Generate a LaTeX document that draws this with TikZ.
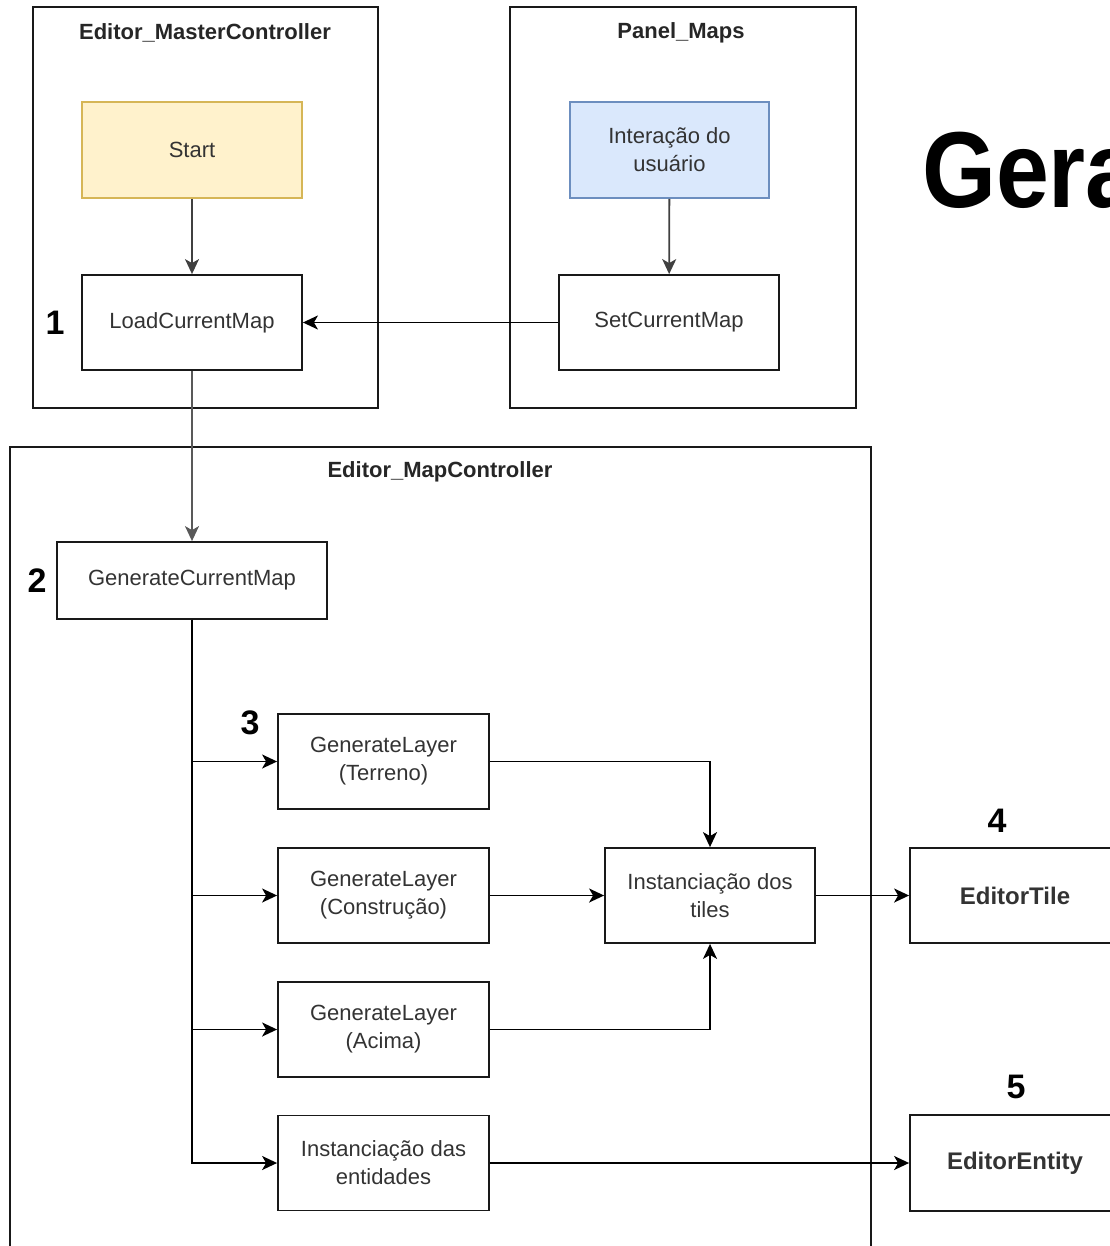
\documentclass[tikz,border=0pt]{standalone}
\usepackage{fontspec}
\setmainfont{Liberation Sans}
\usepackage{tikz}
\usetikzlibrary{shapes.geometric, arrows.meta, positioning}
\definecolor{amarelo}{HTML}{FFF2CC}
\definecolor{amareloborda}{HTML}{D6B656}
\definecolor{azul}{HTML}{DAE8FC}
\definecolor{azulborda}{HTML}{6C8EBF}
\definecolor{texto}{HTML}{333333}
\tikzstyle{caixa} = [draw=black!90, line width=1.8pt, inner sep=0pt, align=center, text=texto, font=\fontsize{22}{28}\selectfont]
\tikzstyle{grupo} = [draw=black!90, line width=1.5pt, inner sep=0pt]
\tikzstyle{titulo} = [inner sep=0pt, text=black!85, font=\fontsize{22}{26}\selectfont\bfseries]
\tikzstyle{numero} = [inner sep=0pt, font=\fontsize{34}{34}\selectfont\bfseries]
\tikzstyle{arrow} = [line width=1.8pt, -{Stealth[length=15pt, width=14pt, inset=4pt]}]

\begin{document}
\begin{tikzpicture}[x=1pt, y=-1pt]
		\useasboundingbox (0,0) rectangle (1109,1246);
		% grupos
		\node[grupo, minimum width=345, minimum height=401] (master) at (205.5,207.5) {};
		\node[grupo, minimum width=346, minimum height=401] (panel) at (683,207.5) {};
		\node[grupo, minimum width=861, minimum height=840] (mapctrl) at (440.5,867) {};
		\node[titulo] (tmaster) at (205,33) {Editor\_MasterController};
		\node[titulo] (tpanel) at (681,33) {Panel\_Maps};
		\node[titulo] (tmapctrl) at (440,472) {Editor\_MapController};
		% caixas de cima
		\node[caixa, draw=amareloborda, fill=amarelo, minimum width=220, minimum height=96] (start) at (192,150) {Start};
		\node[caixa, minimum width=220, minimum height=95] (load) at (192,322.5) {LoadCurrentMap};
		\node[caixa, draw=azulborda, fill=azul, minimum width=199, minimum height=96] (inter) at (669.5,150) {Interação do\\usuário};
		\node[caixa, minimum width=220, minimum height=95] (set) at (669,322.5) {SetCurrentMap};
		\node[caixa, minimum width=270, minimum height=77] (gcm) at (192,580.5) {GenerateCurrentMap};
		% camadas
		\foreach \nome/\yc/\texto in
		{terreno/761.5/{GenerateLayer\\(Terreno)},
		 construcao/895.5/{GenerateLayer\\(Construção)},
		 acima/1029.5/{GenerateLayer\\(Acima)},
		 entidades/1163/{Instanciação das\\entidades}}
		{
			\node[caixa, minimum width=211, minimum height=95] (\nome) at (383.5,\yc) {\texto};
		}
		\node[caixa, minimum width=210, minimum height=95] (tiles) at (710,895.5) {Instanciação dos\\tiles};
		\node[caixa, minimum width=210, minimum height=95, font=\fontsize{24}{28}\selectfont\bfseries] (etile) at (1015,895.5) {EditorTile};
		\node[caixa, minimum width=210, minimum height=96, font=\fontsize{24}{28}\selectfont\bfseries] (eentity) at (1015,1163) {EditorEntity};
		% numeros
		\node[numero] (n1) at (55,323) {1};
		\node[numero] (n2) at (37,581) {2};
		\node[numero] (n3) at (250,723) {3};
		\node[numero] (n4) at (997,821) {4};
		\node[numero] (n5) at (1016,1087) {5};
		\node[anchor=base west, inner sep=0pt, font=\fontsize{108}{108}\selectfont\bfseries] (gera) at (922,208) {\scalebox{0.88}[1]{Gera}};
		% setas
		\draw[arrow, draw=black!75] (start) -- (load);
		\draw[arrow, draw=black!75] (inter) -- (set);
		\draw[arrow] (set) -- (load);
		\draw[arrow, draw=black!65] (load) -- (gcm);
		\foreach \nome in {terreno, construcao, acima, entidades}
		{
			\draw[arrow] (gcm.south) |- (\nome.west);
		}
		\draw[arrow] (terreno.east) -| (tiles.north);
		\draw[arrow] (construcao) -- (tiles);
		\draw[arrow] (acima.east) -| (tiles.south);
		\draw[arrow] (tiles) -- (etile);
		\draw[arrow] (entidades) -- (eentity);
\end{tikzpicture}
\end{document}
